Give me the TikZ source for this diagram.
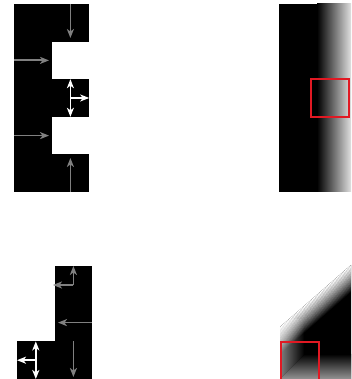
\documentclass[tikz,border=0pt]{standalone}
\usepackage{xcolor}
\usepackage{tikz}
\usetikzlibrary{arrows.meta, calc}
\definecolor{ArrGray}{RGB}{128, 128, 128}
\definecolor{BoxRed}{RGB}{225, 25, 35}

\tikzset{
  cellarr/.style={ArrGray, line width=1.8pt, -{Stealth[length=9pt, width=7pt, inset=2.5pt]}},
  whitearr/.style={white, line width=1.8pt, -{Stealth[length=9pt, width=7pt, inset=2.5pt]}},
  twowayarr/.style={white, line width=1.8pt, {Stealth[length=9pt, width=7pt, inset=2.5pt]}-{Stealth[length=9pt, width=7pt, inset=2.5pt]}},
  redbox/.style={draw=BoxRed, line width=1.1pt, opacity=1}
}

\begin{document}
\begin{tikzpicture}[x=1pt, y=1pt]
    \useasboundingbox (0,0) rectangle (351,379);

    % oberes Gitter (2 x 5 Zellen), zwei Aussparungen rechts
    \fill[black] (14,187) rectangle (89.2,375);
    \fill[white] (51.6,224.6) rectangle (89.2,262.2);
    \fill[white] (51.6,299.8) rectangle (89.2,337.4);

    \coordinate (topin)   at (70.4,375);
    \coordinate (topout)  at (70.4,341);
    \coordinate (upin)    at (14,318.6);
    \coordinate (upout)   at (49,318.6);
    \coordinate (lowin)   at (14,243.4);
    \coordinate (lowout)  at (49,243.4);
    \coordinate (botin)   at (70.4,187);
    \coordinate (botout)  at (70.4,221);
    \coordinate (mid)     at (70.4,281);
    \coordinate (midup)   at (70.4,299.8);
    \coordinate (middown) at (70.4,262.2);
    \coordinate (midright) at (89.2,281);

    \draw[cellarr] (topin) -- (topout);
    \draw[cellarr] (upin) -- (upout);
    \draw[cellarr] (lowin) -- (lowout);
    \draw[cellarr] (botin) -- (botout);
    \draw[twowayarr] (middown) -- (midup);
    \draw[whitearr] (mid) -- (midright);

    % oberes Distanzbild
    \fill[black] (279,187) rectangle (317,375);
    \shade[left color=black, right color=black!12] (317,187) rectangle (351,375);
    \draw[redbox] (311,262) rectangle (349,300);

    % unteres Gitter (L-Form)
    \fill[black] (54.6,0) rectangle (92.2,112.8);
    \fill[black] (17,0) rectangle (54.6,37.6);

    \coordinate (corner)  at (73.4,94);
    \coordinate (cornup)  at (73.4,113);
    \coordinate (cornleft) at (53,94);
    \coordinate (rin)     at (92.2,56.4);
    \coordinate (rout)    at (58,56.4);
    \coordinate (dnin)    at (73.4,37.6);
    \coordinate (dnout)   at (73.4,2);
    \coordinate (seed)    at (35.8,18.8);
    \coordinate (seedup)  at (35.8,37.6);
    \coordinate (seeddn)  at (35.8,0);
    \coordinate (seedleft) at (17,18.8);

    \draw[cellarr] (corner) -- (cornup);
    \draw[cellarr] (corner) -- (cornleft);
    \draw[cellarr] (rin) -- (rout);
    \draw[cellarr] (dnin) -- (dnout);
    \draw[twowayarr] (seeddn) -- (seedup);
    \draw[whitearr] (seed) -- (seedleft);

    % unteres Distanzbild
    \fill[black] (280,0) -- (280,52) -- (351,114) -- (351,0) -- cycle;
    \begin{scope}
      \clip (280,0) -- (280,52) -- (351,114) -- (351,0) -- cycle;
      % linker Rand
      \begin{scope}
        \clip (280,0) -- (304,24) -- (304,60) -- (280,60) -- cycle;
        \shade[left color=black!50, right color=black] (280,0) rectangle (304,60);
      \end{scope}
      % unterer Rand
      \begin{scope}
        \clip (280,0) -- (305,25) -- (351,25) -- (351,0) -- cycle;
        \shade[top color=black, bottom color=black!42] (280,0) rectangle (351,25);
      \end{scope}
      % schraeger Rand
      \begin{scope}[shift={(280,52)}, rotate=41.1]
        \foreach \i in {0,...,19}
          \fill[white, opacity=1-\i/20] (-20,-\i) rectangle (120,-\i-1.02);
      \end{scope}
    \end{scope}
    \draw[redbox] (281,-2) rectangle (319,37);
\end{tikzpicture}
\end{document}
